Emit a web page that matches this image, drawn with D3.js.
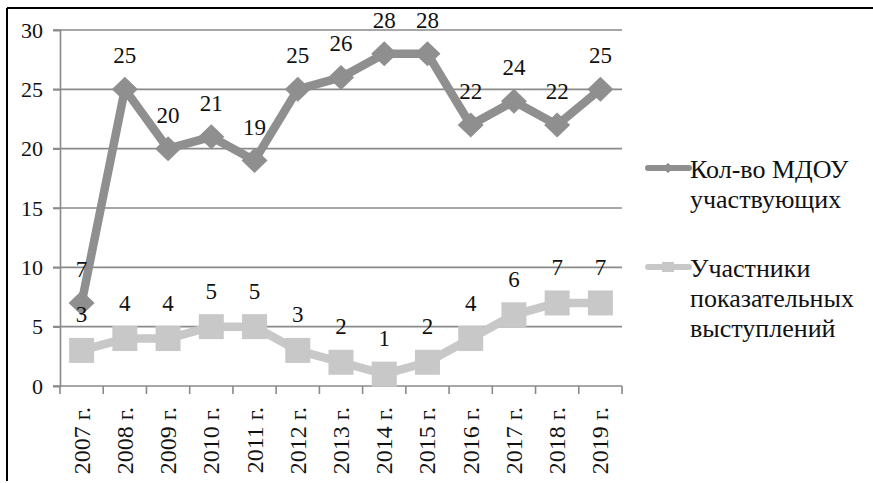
<!DOCTYPE html>
<html>
<head>
<meta charset="utf-8">
<script src="https://d3js.org/d3.v7.min.js"></script>
<style>
body { margin: 0; background: #fff; }
svg, svg text { font-family: "Liberation Serif", "Tinos", "Times New Roman", serif; }
</style>
</head>
<body>
<script>
var years = ["2007 г.", "2008 г.", "2009 г.", "2010 г.", "2011 г.", "2012 г.", "2013 г.",
             "2014 г.", "2015 г.", "2016 г.", "2017 г.", "2018 г.", "2019 г."];
var schools = [7, 25, 20, 21, 19, 25, 26, 28, 28, 22, 24, 22, 25];
var performers = [3, 4, 4, 5, 5, 3, 2, 1, 2, 4, 6, 7, 7];
var seriesNames = [["Кол-во МДОУ", "участвующих"], ["Участники", "показательных", "выступлений"]];
var yTicks = [0, 5, 10, 15, 20, 25, 30];

var FONT = "'Liberation Serif', Tinos, serif";
var w = 873, h = 483;
var svg = d3.select("body").append("svg").attr("width", w).attr("height", h)
  .attr("font-family", FONT);

// frame (only top and left visible in the crop)
svg.append("line").attr("x1", 7).attr("y1", 8).attr("x2", w).attr("y2", 8).attr("stroke", "#000").attr("stroke-width", 2);
svg.append("line").attr("x1", 7).attr("y1", 8).attr("x2", 7).attr("y2", 481).attr("stroke", "#000").attr("stroke-width", 2);

var x = d3.scaleBand().domain(years).range([60, 622]);
var y = d3.scaleLinear().domain([0, 30]).range([386, 30]);
var cx = function(i) { return x(years[i]) + x.bandwidth() / 2; };

// gridlines
svg.append("g").selectAll("line")
  .data(yTicks.filter(function(d){ return d > 0; }))
  .enter().append("line")
  .attr("x1", 53).attr("x2", 622)
  .attr("y1", function(d){ return y(d); }).attr("y2", function(d){ return y(d); })
  .attr("stroke", "#8a8a8a").attr("stroke-width", 1.6);

// y axis
var yAxis = svg.append("g").attr("transform", "translate(60,0)")
  .call(d3.axisLeft(y).tickValues(yTicks).tickSize(7).tickPadding(10));
yAxis.attr("font-family", FONT).attr("font-size", 22);
yAxis.selectAll("path, line").attr("stroke", "#8a8a8a").attr("stroke-width", 1.6);
yAxis.selectAll("text").attr("fill", "#111");

// x axis baseline and ticks between categories
svg.append("line").attr("x1", 53).attr("x2", 622).attr("y1", y(0)).attr("y2", y(0))
  .attr("stroke", "#8a8a8a").attr("stroke-width", 1.6);
var bounds = years.map(function(d){ return x(d); }).concat([x.range()[1]]);
svg.append("g").selectAll("line").data(bounds).enter().append("line")
  .attr("x1", function(d){ return d; }).attr("x2", function(d){ return d; })
  .attr("y1", y(0)).attr("y2", y(0) + 8)
  .attr("stroke", "#8a8a8a").attr("stroke-width", 1.6);

svg.append("g").selectAll("text").data(years).enter().append("text")
  .attr("transform", function(d, i){ return "translate(" + (cx(i) + 8) + "," + (y(0) + 21) + ") rotate(-90)"; })
  .attr("text-anchor", "end")
  .attr("font-size", 24).attr("fill", "#111")
  .text(function(d){ return d; });

var line = d3.line().x(function(d, i){ return cx(i); }).y(function(d){ return y(d); });

var c1 = "#8f8f8f", c2 = "#c8c8c8";

// series 2 (light squares)
svg.append("path").datum(performers).attr("d", line)
  .attr("fill", "none").attr("stroke", c2).attr("stroke-width", 8.5).attr("stroke-linejoin", "round");
svg.append("g").selectAll("rect").data(performers).enter().append("rect")
  .attr("x", function(d, i){ return cx(i) - 12.5; }).attr("y", function(d){ return y(d) - 12.5; })
  .attr("width", 25).attr("height", 25).attr("fill", c2);

// series 1 (dark diamonds)
svg.append("path").datum(schools).attr("d", line)
  .attr("fill", "none").attr("stroke", c1).attr("stroke-width", 8.5).attr("stroke-linejoin", "round");
svg.append("g").selectAll("path").data(schools).enter().append("path")
  .attr("d", "M0,-12.5L13,0L0,12.5L-13,0Z")
  .attr("transform", function(d, i){ return "translate(" + cx(i) + "," + y(d) + ")"; })
  .attr("fill", c1);

// data labels
svg.append("g").selectAll("text").data(schools).enter().append("text")
  .attr("x", function(d, i){ return cx(i); }).attr("y", function(d){ return y(d) - 26; })
  .attr("text-anchor", "middle").attr("font-size", 23).attr("fill", "#111")
  .text(function(d){ return d; });
svg.append("g").selectAll("text").data(performers).enter().append("text")
  .attr("x", function(d, i){ return cx(i); }).attr("y", function(d){ return y(d) - 28; })
  .attr("text-anchor", "middle").attr("font-size", 23).attr("fill", "#111")
  .text(function(d){ return d; });

// legend
var legendY = [168, 267];
var colors = [c1, c2];
seriesNames.forEach(function(lines, k) {
  var g = svg.append("g");
  g.append("line").attr("x1", 648).attr("x2", 689).attr("y1", legendY[k]).attr("y2", legendY[k])
    .attr("stroke", colors[k]).attr("stroke-width", 6).attr("stroke-linecap", "round");
  if (k === 0) {
    g.append("path").attr("d", "M0,-5L6,0L0,5L-6,0Z")
      .attr("transform", "translate(668," + legendY[k] + ")").attr("fill", colors[k]);
  } else {
    g.append("rect").attr("x", 662).attr("y", legendY[k] - 5).attr("width", 12).attr("height", 10).attr("fill", colors[k]);
  }
  lines.forEach(function(t, j) {
    g.append("text").attr("x", 690).attr("y", legendY[k] + 10 + j * 30)
      .attr("font-size", 26).attr("fill", "#111").text(t);
  });
});
</script>
</body>
</html>
